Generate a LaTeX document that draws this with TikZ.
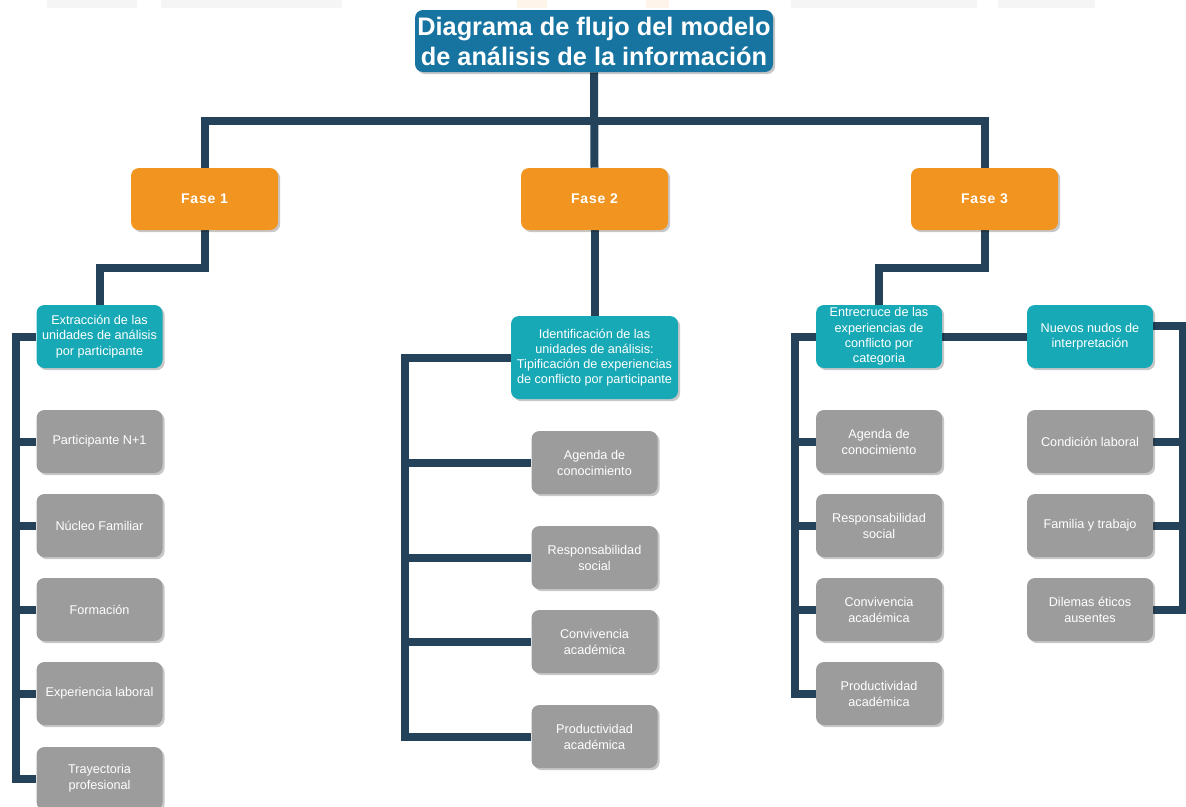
\documentclass[tikz,border=0pt]{standalone}
\usepackage{fontspec}
\setmainfont{Liberation Sans}
\usetikzlibrary{shadows,calc,backgrounds}
\definecolor{titleblue}{HTML}{1774A0}
\definecolor{faseorange}{HTML}{F29520}
\definecolor{tealbox}{HTML}{17A9B6}
\definecolor{boxgray}{HTML}{9C9C9C}
\definecolor{connblue}{HTML}{24435B}
\begin{document}
\begin{tikzpicture}[x=0.75pt,y=-0.75pt,
  box/.style={rounded corners=6pt, text=white, align=center, inner sep=0pt,
    drop shadow={shadow xshift=1.6pt, shadow yshift=-1.6pt, fill=black, opacity=0.22}},
  titlebox/.style={box, fill=titleblue, minimum width=268.5pt, minimum height=46.5pt,
    font=\fontsize{19}{22.5}\selectfont\bfseries},
  fasebox/.style={box, fill=faseorange, minimum width=110.25pt, minimum height=46.5pt,
    font=\fontsize{10.5}{12}\selectfont\bfseries\addfontfeature{LetterSpace=6}},
  tealnode/.style={box, fill=tealbox, minimum width=94.5pt, minimum height=47.25pt,
    font=\fontsize{9.5}{11.4}\selectfont},
  graybox/.style={box, fill=boxgray, minimum width=94.5pt, minimum height=47.25pt,
    font=\fontsize{9.5}{12}\selectfont},
  conn/.style={draw=connblue, line width=6pt, line join=miter}
]
\useasboundingbox (0,0) rectangle (1186,807);

% connectors coordinates
\coordinate (bus) at (594.5,121);
\coordinate (j1) at (150,268);
\coordinate (j3) at (930,268);
\coordinate (c1) at (16,778);
\coordinate (c2) at (405,736.5);
\coordinate (c3) at (795,693.5);
\coordinate (c4) at (1183,609.5);

% nodes
\node[titlebox] (title) at (594,41) {Diagrama de flujo del modelo\\de análisis de la información};
\node[fasebox] (f1) at (204.5,199) {Fase 1};
\node[fasebox] (f2) at (594.5,199) {Fase 2};
\node[fasebox] (f3) at (984.5,199) {Fase 3};

\node[tealnode] (t1) at (99.5,336.5) {Extracción de las\\unidades de análisis\\por participante};
\node[tealnode, minimum width=125.25pt, minimum height=62.25pt] (t2) at (594.5,357.5)
  {Identificación de las\\unidades de análisis:\\Tipificación de experiencias\\de conflicto por participante};
\node[tealnode] (t3) at (879,336.5) {Entrecruce de las\\experiencias de\\conflicto por\\categoria};
\node[tealnode] (t4) at (1090,336.5) {Nuevos nudos de\\interpretación};

\node[graybox] (g11) at (99.5,441.5) {Participante N+1};
\node[graybox] (g12) at (99.5,525.5) {Núcleo Familiar};
\node[graybox] (g13) at (99.5,609.5) {Formación};
\node[graybox] (g14) at (99.5,693.5) {Experiencia laboral};
\node[graybox] (g15) at (99.5,778.5) {Trayectoria\\profesional};

\node[graybox] (g21) at (594.5,462.5) {Agenda de\\conocimiento};
\node[graybox] (g22) at (594.5,557.5) {Responsabilidad\\social};
\node[graybox] (g23) at (594.5,641.5) {Convivencia\\académica};
\node[graybox] (g24) at (594.5,736.5) {Productividad\\académica};

\node[graybox] (g31) at (879,441.5) {Agenda de\\conocimiento};
\node[graybox] (g32) at (879,525.5) {Responsabilidad\\social};
\node[graybox] (g33) at (879,609.5) {Convivencia\\académica};
\node[graybox] (g34) at (879,693.5) {Productividad\\académica};

\node[graybox] (g41) at (1090,441.5) {Condición laboral};
\node[graybox] (g42) at (1090,525.5) {Familia y trabajo};
\node[graybox] (g43) at (1090,609.5) {Dilemas éticos\\ausentes};

\begin{scope}[on background layer]
% faint background marks at the top
\fill[black!4] (47,0) rectangle (137,8);
\fill[black!4] (161,0) rectangle (342,8);
\fill[black!4] (791,0) rectangle (977,8);
\fill[black!4] (998,0) rectangle (1095,8);
\fill[faseorange!10] (517,0) rectangle (547,8);
\fill[faseorange!10] (646,0) rectangle (669,8);

\draw[conn] (title.south) -- (f2.north);
\draw[conn] (f1.north) |- (bus) -| (f3.north);
\draw[conn] (f1.south) |- (j1) -| (t1.north);
\draw[conn] (f2.south) -- (t2.north);
\draw[conn] (f3.south) |- (j3) -| (t3.north);

\draw[conn] (t1.west) -| (c1) |- (g15.west);
\foreach \n in {g11,g12,g13,g14} \draw[conn] (\n.west) -- (\n.west -| c1);

\draw[conn] (t2.west) -| (c2) |- (g24.west);
\foreach \n in {g21,g22,g23} \draw[conn] (\n.west) -- (\n.west -| c2);

\draw[conn] (t3.west) -| (c3) |- (g34.west);
\foreach \n in {g31,g32,g33} \draw[conn] (\n.west) -- (\n.west -| c3);

\draw[conn] (t3.east) -- (t4.west);
\draw[conn] ($(t4.east)+(0,-11)$) -| (c4) |- (g43.east);
\foreach \n in {g41,g42} \draw[conn] (\n.east) -- (\n.east -| c4);
\end{scope}
\end{tikzpicture}
\end{document}
